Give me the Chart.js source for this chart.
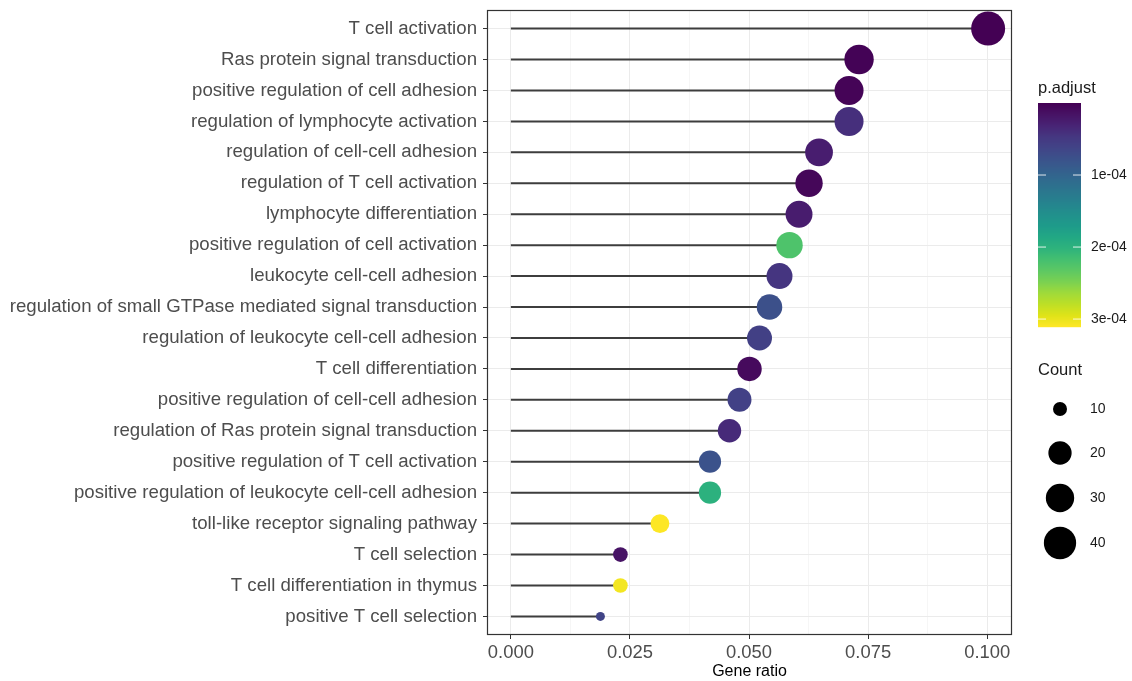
<!DOCTYPE html>
<html>
<head>
<meta charset="utf-8">
<script src="https://cdn.jsdelivr.net/npm/chart.js@4.4.1/dist/chart.umd.min.js"></script>
<style>
  html, body { margin: 0; padding: 0; background: #ffffff; }
  #wrap { width: 1132px; height: 681px; position: relative; }
</style>
</head>
<body>
<div id="wrap"><canvas id="c"></canvas></div>
<script>
// GO enrichment terms, top to bottom
const terms = [
  'T cell activation',
  'Ras protein signal transduction',
  'positive regulation of cell adhesion',
  'regulation of lymphocyte activation',
  'regulation of cell-cell adhesion',
  'regulation of T cell activation',
  'lymphocyte differentiation',
  'positive regulation of cell activation',
  'leukocyte cell-cell adhesion',
  'regulation of small GTPase mediated signal transduction',
  'regulation of leukocyte cell-cell adhesion',
  'T cell differentiation',
  'positive regulation of cell-cell adhesion',
  'regulation of Ras protein signal transduction',
  'positive regulation of T cell activation',
  'positive regulation of leukocyte cell-cell adhesion',
  'toll-like receptor signaling pathway',
  'T cell selection',
  'T cell differentiation in thymus',
  'positive T cell selection'
];
const geneRatio = [0.1002, 0.0731, 0.0710, 0.0710, 0.0647, 0.0626, 0.0605, 0.0585, 0.0564,
                   0.0543, 0.0522, 0.0501, 0.0480, 0.0459, 0.0418, 0.0418, 0.0313, 0.0230,
                   0.0230, 0.0188];
const counts = [48, 35, 34, 34, 31, 30, 29, 28, 27, 26, 25, 24, 23, 22, 20, 20, 15, 11, 11, 9];
const pAdjust = [1.2e-8, 2.0e-6, 3.0e-6, 4.0e-5, 2.5e-5, 5.0e-6, 2.4e-5, 2.24e-4, 4.5e-5,
                 7.5e-5, 5.8e-5, 8.0e-6, 5.9e-5, 3.6e-5, 7.8e-5, 1.99e-4, 3.11e-4, 1.6e-5,
                 3.06e-4, 6.2e-5];
const xTickValues = [0, 0.0125, 0.025, 0.0375, 0.05, 0.0625, 0.075, 0.0875, 0.1];
const xMajorLabels = { 0: '0.000', 2: '0.025', 4: '0.050', 6: '0.075', 8: '0.100' };
const colorbarBreaks = [1e-4, 2e-4, 3e-4];
const colorbarLabels = ['1e-04', '2e-04', '3e-04'];
const sizeBreaks = [10, 20, 30, 40];

const FONT = '"Liberation Sans", Arial, Helvetica, sans-serif';

// viridis palette, 21 stops
const VIRIDIS = ['#440154','#471365','#482475','#453781','#414487','#3B528B','#355F8D',
  '#2F6C8E','#2A788E','#25848E','#21918C','#1E9B8A','#22A884','#2EB37C','#44BF70',
  '#5DC863','#7AD151','#9FDA3A','#BDDF26','#DFE318','#FDE725'];
function hexRgb(h) { return [1, 3, 5].map(i => parseInt(h.slice(i, i + 2), 16)); }
function viridis(t) {
  t = Math.max(0, Math.min(1, t));
  const pos = t * (VIRIDIS.length - 1);
  const i = Math.min(Math.floor(pos), VIRIDIS.length - 2);
  const f = pos - i;
  const a = hexRgb(VIRIDIS[i]), b = hexRgb(VIRIDIS[i + 1]);
  const c = a.map((v, k) => Math.round(v + (b[k] - v) * f));
  return 'rgb(' + c.join(',') + ')';
}
const pMin = Math.min(...pAdjust), pMax = Math.max(...pAdjust);
const colorFor = p => viridis((p - pMin) / (pMax - pMin));

// point size scale: diameter grows with sqrt of count
const cMin = Math.min(...counts), cMax = Math.max(...counts);
const diameterFor = c => 9 + 25 * Math.sqrt((c - cMin) / (cMax - cMin));

const yMin = -0.6, yMax = terms.length - 1 + 0.6;
const ratioMax = Math.max(...geneRatio);

// stems from zero to each point
const stemSets = terms.map((t, i) => ({
  type: 'line',
  data: [{ x: 0, y: i }, { x: geneRatio[i], y: i }],
  borderColor: '#3d3d3d',
  borderWidth: 2,
  pointRadius: 0,
  showLine: true,
  order: 2
}));

const dotSet = {
  type: 'scatter',
  data: terms.map((t, i) => ({ x: geneRatio[i], y: i })),
  pointRadius: counts.map(c => diameterFor(c) / 2),
  pointHoverRadius: counts.map(c => diameterFor(c) / 2),
  backgroundColor: pAdjust.map(colorFor),
  borderWidth: 0,
  order: 1
};

const legendPlugin = {
  id: 'legends',
  afterDraw(chart) {
    const ctx = chart.ctx;
    const area = chart.chartArea;
    ctx.save();
    // panel border
    ctx.strokeStyle = '#333333';
    ctx.lineWidth = 1.2;
    ctx.strokeRect(area.left + 0.5, area.top + 0.5, area.right - area.left - 1, area.bottom - area.top - 1);

    // colour bar
    const bx = 1038, bw = 43, by = 103, bh = 224;
    for (let k = 0; k < bh; k++) {
      ctx.fillStyle = viridis(k / (bh - 1));
      ctx.fillRect(bx, by + k, bw, 1.2);
    }
    ctx.fillStyle = '#1a1a1a';
    ctx.font = '16.5px ' + FONT;
    ctx.textBaseline = 'middle';
    ctx.textAlign = 'left';
    ctx.fillText('p.adjust', 1038, 88);
    ctx.font = '14px ' + FONT;
    colorbarBreaks.forEach((v, i) => {
      const y = by + (v - pMin) / (pMax - pMin) * bh;
      ctx.strokeStyle = 'rgba(255,255,255,0.85)';
      ctx.lineWidth = 1;
      ctx.beginPath();
      ctx.moveTo(bx, y); ctx.lineTo(bx + 8, y);
      ctx.moveTo(bx + bw - 8, y); ctx.lineTo(bx + bw, y);
      ctx.stroke();
      ctx.fillStyle = '#1a1a1a';
      ctx.fillText(colorbarLabels[i], 1091, y);
    });

    // count legend
    ctx.font = '16.5px ' + FONT;
    ctx.fillText('Count', 1038, 370);
    ctx.font = '14px ' + FONT;
    const rowsY = [409, 453, 498, 543];
    sizeBreaks.forEach((c, i) => {
      ctx.fillStyle = '#000000';
      ctx.beginPath();
      ctx.arc(1060, rowsY[i], diameterFor(c) / 2 + 0.5, 0, Math.PI * 2);
      ctx.fill();
      ctx.fillStyle = '#1a1a1a';
      ctx.fillText(String(c), 1090, rowsY[i]);
    });
    ctx.restore();
  }
};

new Chart(document.getElementById('c'), {
  type: 'scatter',
  data: { datasets: [dotSet, ...stemSets] },
  options: {
    responsive: true,
    maintainAspectRatio: false,
    animation: false,
    events: [],
    layout: { autoPadding: false, padding: { left: 0, right: 120, top: 10, bottom: 0 } },
    plugins: { legend: { display: false }, tooltip: { enabled: false } },
    elements: { point: { hitRadius: 0 } },
    scales: {
      x: {
        type: 'linear',
        min: -0.05 * ratioMax,
        max: 1.05 * ratioMax,
        afterBuildTicks(scale) { scale.ticks = xTickValues.map(v => ({ value: v })); },
        afterFit(scale) { scale.height = 46; scale.paddingLeft = 0; scale.paddingRight = 0; },
        border: { display: false },
        grid: {
          color: c => (Math.round(c.tick.value / 0.0125) % 2 === 0 ? '#EBEBEB' : '#F6F6F6'),
          lineWidth: 1,
          drawTicks: true,
          tickLength: 4,
          tickColor: c => (Math.round(c.tick.value / 0.0125) % 2 === 0 ? '#333333' : 'rgba(0,0,0,0)')
        },
        ticks: {
          autoSkip: false,
          maxRotation: 0,
          padding: 3,
          color: '#4D4D4D',
          font: { family: FONT, size: 18.4 },
          callback: (v, i) => xMajorLabels[i] || ''
        },
        title: {
          display: true,
          text: 'Gene ratio',
          color: '#000000',
          font: { family: FONT, size: 16 },
          padding: { top: 0, bottom: 0 }
        }
      },
      y: {
        type: 'linear',
        reverse: true,
        min: yMin,
        max: yMax,
        afterBuildTicks(scale) { scale.ticks = terms.map((t, i) => ({ value: i })); },
        afterFit(scale) { scale.width = 487; scale.paddingTop = 0; scale.paddingBottom = 0; },
        border: { display: false },
        grid: {
          color: '#EBEBEB',
          lineWidth: 1,
          drawTicks: true,
          tickLength: 4,
          tickColor: '#333333'
        },
        ticks: {
          autoSkip: false,
          padding: 6,
          color: '#4D4D4D',
          font: { family: FONT, size: 18.65 },
          callback: v => terms[v] || ''
        }
      }
    }
  },
  plugins: [legendPlugin]
});
</script>
</body>
</html>
